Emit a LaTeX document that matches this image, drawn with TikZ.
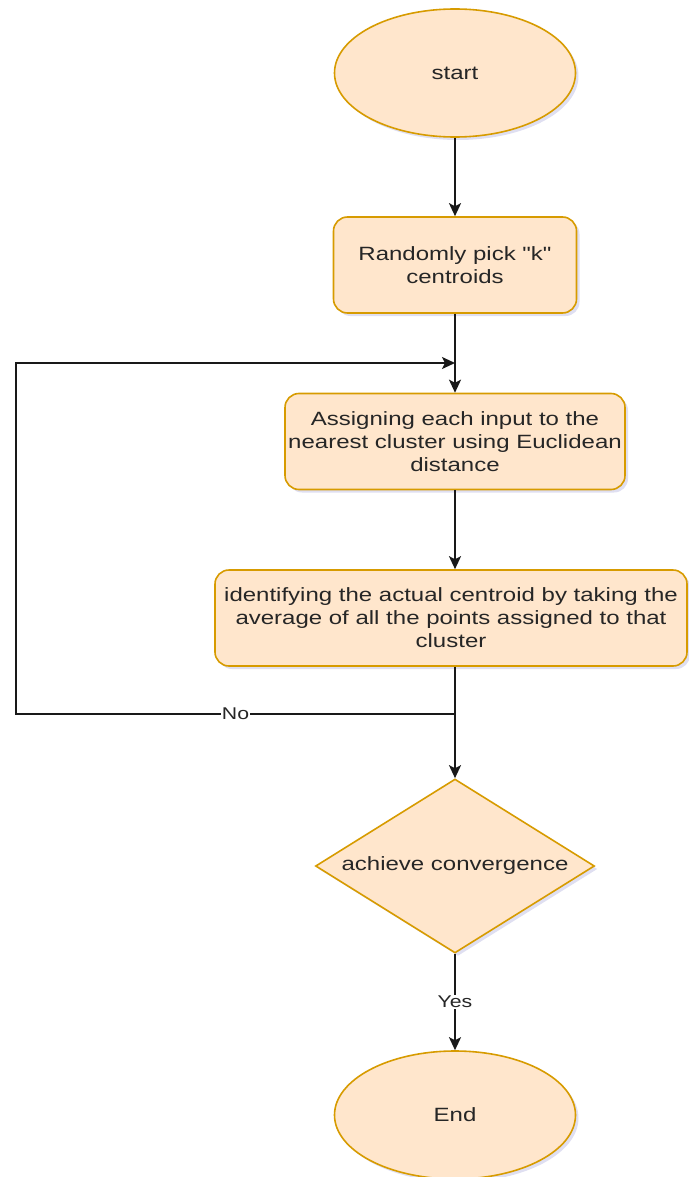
\documentclass[tikz,border=0pt]{standalone}
\usepackage{fontspec}
\setmainfont[FakeStretch=1.25,Ligatures=TeXOff]{Liberation Sans}
\usetikzlibrary{shapes.geometric,arrows.meta,shadows}
\definecolor{nodefill}{HTML}{FFE6CC}
\definecolor{nodedraw}{HTML}{D79B00}
\definecolor{txt}{HTML}{262626}
\begin{document}
\begin{tikzpicture}[x=1pt,y=-1pt,
  base/.style={fill=nodefill,draw=nodedraw,line width=1.6pt,text=txt,
    font=\fontsize{19.2pt}{23pt}\selectfont,align=center,inner sep=0pt,
    drop shadow={shadow xshift=3pt,shadow yshift=-3pt,opacity=0.18,fill=blue!40!gray}},
  term/.style={base,ellipse,minimum width=241pt,minimum height=128pt},
  proc/.style={base,rectangle,rounded corners=14pt,minimum height=96pt},
  decide/.style={base,diamond,aspect=1.6,minimum width=279pt,minimum height=174pt},
  flow/.style={line width=2pt,draw=black!90,-{Stealth[length=13pt,width=12pt,inset=3pt]}},
  lbl/.style={fill=white,text=txt,font=\fontsize{17pt}{19pt}\selectfont,inner sep=1pt}]
\useasboundingbox (0,0) rectangle (688,1177);
\node[term] (start) at (455,73) {start};
\node[proc,minimum width=243pt] (pick) at (455,265) {Randomly pick "k"\\centroids};
\node[proc,minimum width=340pt] (assign) at (455,441.5) {Assigning each input to the\\nearest cluster using Euclidean\\distance};
\node[proc,minimum width=472pt] (ident) at (451,618) {identifying the actual centroid by taking the\\average of all the points assigned to that\\cluster};
\node[decide] (conv) at (455,866) {achieve convergence};
\node[term] (end) at (455,1115) {End};
\coordinate (jn) at (455,714);
\coordinate (cl) at (16,714);
\coordinate (cu) at (16,363);
\coordinate (mg) at (455,363);
\draw[flow] (start) -- (pick);
\draw[flow] (pick) -- (assign);
\draw[flow] (assign) -- (assign.south |- ident.north);
\draw[flow] (ident.south -| conv.north) -- (conv.north);
\draw[flow] (jn) -- (cl) -- (cu) -- (mg);
\path (jn) -- node[lbl,pos=0.5] {No} (cl);
\draw[flow] (conv) -- node[lbl,pos=0.5] {Yes} (end);
\end{tikzpicture}
\end{document}
